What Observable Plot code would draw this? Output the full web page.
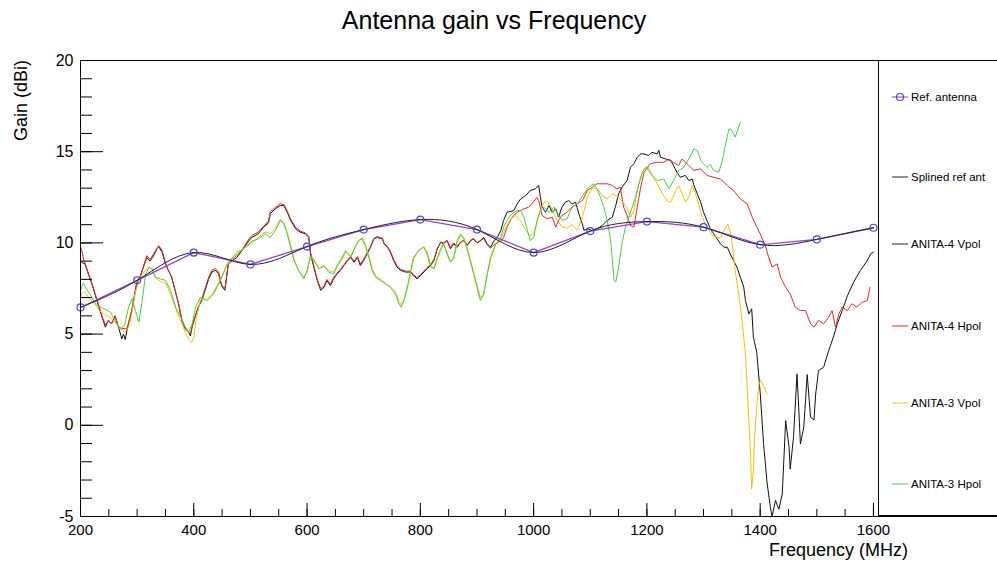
<!DOCTYPE html>
<html><head><meta charset="utf-8">
<script src="https://cdn.jsdelivr.net/npm/d3@7"></script>
<script src="https://cdn.jsdelivr.net/npm/@observablehq/plot@0.6"></script>
<style>
body{margin:0;background:#fff;}
#chart{width:997px;height:563px;}
</style>
</head><body><div id="chart"></div>
<script>
// ---- data (frequency MHz, gain dBi) ----
const refAntenna = [[200,6.46],[300,7.95],[400,9.47],[500,8.82],[600,9.8],[700,10.73],[800,11.28],[900,10.73],[1000,9.47],[1100,10.65],[1200,11.17],[1300,10.86],[1400,9.9],[1500,10.19],[1600,10.83]];

const anita4V = [[200,9.0],[204,8.9],[208,8.85],[214,8.3],[220,7.76],[229,6.84],[238,5.93],[244,5.38],[249,5.75],[255,5.56],[261,6.0],[267,5.38],[273,4.74],[276,5.0],[279,4.7],[282,5.2],[291,6.3],[299,7.76],[305,8.12],[311,8.67],[317,9.2],[323,9.0],[329,9.3],[335,9.68],[338,9.8],[344,9.5],[350,8.85],[355,8.5],[361,8.12],[367,7.4],[373,6.66],[379,5.75],[385,5.29],[391,5.1],[394,4.9],[397,5.38],[402,5.93],[408,6.48],[414,6.84],[420,7.4],[426,8.0],[432,8.4],[438,8.5],[444,8.3],[449,7.66],[455,7.4],[461,8.85],[467,9.0],[476,9.2],[485,9.58],[497,10.1],[502,10.3],[514,10.5],[523,10.86],[532,11.1],[535,11.6],[544,11.87],[553,12.05],[559,12.05],[565,11.68],[571,11.23],[580,10.77],[588,10.59],[597,10.5],[603,10.3],[606,9.4],[612,8.67],[618,7.94],[624,7.4],[630,7.57],[635,7.94],[641,7.66],[647,8.03],[653,8.3],[659,8.5],[665,8.76],[671,9.0],[677,9.2],[683,8.94],[689,9.2],[694,8.76],[700,9.03],[706,9.4],[712,9.76],[718,10.22],[724,10.3],[733,10.22],[736,9.95],[742,9.76],[747,9.5],[753,9.03],[759,8.67],[765,8.5],[774,8.4],[783,8.4],[788,8.2],[794,8.03],[800,8.2],[806,8.4],[812,8.58],[818,8.76],[824,9.03],[830,9.68],[836,10.04],[841,9.95],[847,10.13],[853,9.68],[859,9.95],[865,9.76],[871,10.04],[877,10.13],[883,9.86],[889,10.13],[894,10.22],[900,10.0],[906,10.13],[912,10.3],[918,9.95],[924,9.76],[930,10.13],[936,10.3],[942,10.68],[947,11.23],[953,11.68],[965,11.77],[971,12.14],[977,12.41],[986,12.6],[994,12.87],[1003,12.96],[1009,13.15],[1012,12.5],[1015,11.96],[1021,11.68],[1027,12.05],[1033,11.68],[1039,11.87],[1044,11.41],[1050,11.96],[1056,12.23],[1062,12.32],[1068,12.14],[1074,12.23],[1080,11.59],[1086,11.04],[1089,10.68],[1095,10.77],[1103,10.68],[1112,10.77],[1121,10.95],[1130,11.23],[1139,11.41],[1145,12.05],[1150,12.69],[1156,13.05],[1165,13.42],[1171,14.15],[1177,14.34],[1183,14.7],[1189,14.88],[1195,14.88],[1203,14.79],[1209,14.97],[1218,14.88],[1221,15.07],[1224,14.7],[1233,14.6],[1242,14.52],[1247,14.24],[1253,13.87],[1259,13.6],[1268,13.7],[1274,13.42],[1280,13.5],[1283,13.15],[1289,12.69],[1295,12.23],[1300,11.68],[1306,11.23],[1312,10.77],[1318,10.5],[1324,10.22],[1330,9.95],[1336,9.76],[1342,9.76],[1347,9.4],[1353,9.03],[1359,8.67],[1365,8.12],[1371,7.57],[1374,6.84],[1380,6.11],[1383,6.29],[1385,6.39],[1388,4.83],[1394,4.0],[1400,1.8],[1406,-1.0],[1412,-3.1],[1418,-4.5],[1421,-5.0],[1427,-4.12],[1433,-4.6],[1439,-3.76],[1445,0.26],[1448,-0.47],[1451,-1.2],[1453,-2.4],[1459,-0.6],[1465,2.82],[1468,0.99],[1471,-1.02],[1477,-0.1],[1483,2.78],[1489,0.44],[1495,0.3],[1498,1.72],[1503,3.0],[1512,3.18],[1521,4.1],[1530,4.9],[1536,5.56],[1545,6.3],[1554,7.1],[1565,7.85],[1577,8.49],[1589,9.03],[1595,9.4],[1600,9.5]];

const anita4H = [[200,9.8],[203,9.5],[206,9.0],[208,8.9],[214,8.3],[220,7.8],[229,6.9],[238,6.0],[244,5.5],[249,5.7],[255,5.6],[261,6.0],[267,5.4],[273,5.3],[279,5.3],[282,5.3],[291,6.4],[299,7.8],[305,8.1],[311,8.7],[317,9.3],[323,9.1],[329,9.4],[335,9.7],[338,9.85],[344,9.6],[350,8.9],[355,8.5],[361,8.1],[367,7.4],[373,6.7],[379,5.8],[385,5.3],[391,5.1],[394,5.0],[397,5.4],[402,5.9],[408,6.5],[414,6.9],[420,7.5],[426,8.1],[432,8.5],[438,8.6],[444,8.4],[449,7.7],[455,7.5],[461,8.9],[467,9.1],[476,9.3],[485,9.6],[497,10.2],[502,10.4],[514,10.6],[523,10.9],[532,11.2],[535,11.7],[544,11.95],[553,12.15],[559,12.1],[565,11.75],[571,11.3],[580,10.85],[588,10.65],[597,10.55],[603,10.35],[606,9.5],[612,8.75],[618,8.0],[624,7.5],[630,7.65],[635,8.0],[641,7.75],[647,8.1],[653,8.35],[659,8.55],[665,8.8],[671,9.05],[677,9.25],[683,9.0],[689,9.25],[694,8.85],[700,9.1],[706,9.45],[712,9.8],[718,10.25],[724,10.35],[733,10.25],[736,10.0],[742,9.8],[747,9.55],[753,9.1],[759,8.75],[765,8.55],[774,8.45],[783,8.45],[788,8.25],[794,8.1],[800,8.25],[806,8.45],[812,8.65],[818,8.8],[824,9.1],[830,9.7],[836,10.05],[841,10.0],[847,10.15],[853,9.75],[859,10.0],[865,9.8],[871,10.05],[877,10.15],[883,9.9],[889,10.15],[894,10.25],[900,10.0],[906,10.1],[912,10.25],[918,9.9],[924,9.7],[930,9.9],[936,10.0],[942,10.1],[947,10.3],[953,10.86],[962,11.41],[971,11.68],[983,11.87],[991,11.96],[997,12.14],[1006,12.5],[1009,12.32],[1015,11.5],[1024,11.32],[1033,11.41],[1039,10.86],[1044,11.23],[1050,11.5],[1059,11.68],[1068,11.96],[1077,12.14],[1086,12.32],[1095,12.87],[1103,13.05],[1112,13.24],[1121,13.24],[1130,13.24],[1139,13.15],[1147,12.96],[1153,13.05],[1159,11.96],[1165,11.5],[1171,10.95],[1177,10.86],[1183,11.96],[1189,13.05],[1195,13.87],[1206,14.34],[1218,14.42],[1230,14.42],[1239,14.6],[1247,14.4],[1256,14.24],[1262,14.6],[1271,14.34],[1283,13.97],[1295,14.06],[1306,13.7],[1318,13.6],[1330,13.5],[1342,13.15],[1353,12.87],[1365,12.41],[1377,12.14],[1386,11.41],[1394,10.86],[1400,10.5],[1409,9.86],[1415,9.22],[1421,8.67],[1430,8.85],[1436,8.12],[1445,7.57],[1453,7.2],[1462,6.48],[1471,6.29],[1480,6.29],[1489,5.56],[1495,5.38],[1503,5.75],[1512,5.56],[1521,5.93],[1527,6.29],[1533,5.38],[1539,6.11],[1545,6.48],[1554,6.29],[1562,6.66],[1571,6.48],[1580,6.75],[1589,6.84],[1594,7.57]];

const anita3V = [[200,7.1],[205,7.3],[209,7.3],[214,7.0],[218,6.9],[226,6.6],[233,6.3],[241,6.1],[253,5.9],[262,5.6],[271,5.3],[278,5.1],[285,5.4],[291,6.2],[297,7.3],[303,7.9],[309,8.3],[315,8.5],[321,8.7],[327,8.5],[332,8.1],[341,7.9],[350,7.8],[359,7.2],[368,6.4],[377,5.7],[385,5.1],[391,4.7],[396,4.55],[400,4.8],[404,5.8],[412,6.9],[424,6.9],[435,7.3],[447,8.0],[459,8.8],[468,9.1],[477,9.4],[488,9.7],[503,10.0],[514,10.3],[526,10.6],[535,10.5],[544,10.8],[553,11.3],[559,11.1],[565,10.6],[571,9.9],[577,9.1],[585,8.5],[594,8.1],[600,8.4],[606,9.2],[612,9.1],[621,8.6],[630,8.7],[638,8.5],[647,8.4],[653,8.7],[662,9.1],[668,9.5],[677,9.3],[686,9.8],[691,10.1],[697,10.3],[703,9.9],[709,9.3],[715,8.6],[721,8.2],[730,8.0],[738,7.8],[747,7.6],[756,7.3],[762,6.8],[766,6.6],[771,6.9],[777,7.5],[783,8.4],[788,9.1],[797,9.6],[806,9.8],[812,9.5],[818,8.8],[824,8.6],[830,9.1],[836,9.6],[841,9.9],[847,9.5],[853,9.0],[859,9.1],[865,10.0],[871,10.4],[877,10.3],[883,9.7],[889,9.0],[894,8.4],[900,7.7],[906,7.0],[912,7.2],[918,8.2],[924,9.1],[933,9.9],[942,10.2],[950,10.8],[959,11.3],[968,11.5],[977,11.2],[986,10.7],[994,10.4],[1000,10.5],[1006,11.1],[1012,11.8],[1018,12.2],[1024,12.3],[1030,12.0],[1036,11.6],[1042,11.2],[1050,10.9],[1059,10.8],[1068,11.0],[1077,10.7],[1086,11.4],[1095,12.5],[1103,13.0],[1112,13.0],[1121,12.6],[1130,12.4],[1139,12.7],[1150,12.5],[1159,12.2],[1165,11.9],[1171,11.4],[1177,11.8],[1183,12.9],[1189,13.6],[1195,14.06],[1201,14.2],[1206,13.9],[1218,13.24],[1227,12.7],[1236,12.3],[1242,12.23],[1250,12.8],[1256,13.15],[1262,12.7],[1268,12.23],[1274,12.5],[1280,13.15],[1286,12.69],[1292,12.05],[1298,11.41],[1304,10.95],[1310,10.68],[1316,10.4],[1324,10.3],[1330,10.25],[1336,10.7],[1343,11.04],[1347,10.6],[1350,10.1],[1356,8.5],[1362,7.2],[1368,5.75],[1374,3.9],[1377,2.1],[1380,0.26],[1383,-1.56],[1385,-3.5],[1388,-2.5],[1390,-0.7],[1394,1.1],[1398,2.27],[1401,2.46],[1407,2.09],[1412,1.72]];

const anita3H = [[200,7.4],[205,7.8],[209,7.57],[214,7.3],[218,7.12],[226,6.7],[229,6.57],[241,6.39],[253,6.2],[262,5.66],[271,5.29],[278,5.5],[285,6.48],[291,6.94],[297,6.29],[303,5.66],[309,6.84],[315,8.3],[321,8.67],[327,8.58],[332,8.12],[341,8.03],[350,7.94],[359,7.4],[368,6.48],[377,5.93],[385,5.38],[391,5.1],[397,5.56],[403,6.48],[412,7.02],[424,6.84],[435,7.2],[447,7.94],[459,8.85],[468,9.2],[477,9.5],[488,9.68],[503,10.1],[514,10.22],[526,10.5],[535,10.3],[544,10.68],[553,11.23],[559,11.04],[565,10.5],[571,9.76],[577,9.03],[585,8.49],[594,8.03],[600,8.49],[606,9.3],[612,9.03],[621,8.58],[630,8.76],[638,8.4],[647,8.3],[653,8.76],[662,9.2],[668,9.58],[677,9.2],[686,9.86],[691,10.13],[697,10.22],[703,9.86],[709,9.2],[715,8.49],[721,8.12],[730,7.94],[738,7.76],[747,7.57],[756,7.2],[762,6.66],[766,6.48],[771,6.84],[777,7.57],[783,8.49],[788,9.2],[797,9.58],[806,9.76],[812,9.4],[818,8.67],[824,8.58],[830,9.2],[836,9.68],[841,9.95],[847,9.4],[853,8.94],[859,9.2],[865,10.13],[871,10.5],[877,10.22],[883,9.58],[889,8.94],[894,8.3],[900,7.57],[906,6.84],[912,7.2],[918,8.3],[924,9.2],[933,9.95],[942,10.3],[947,10.86],[953,11.23],[959,11.5],[965,11.68],[971,11.77],[977,11.77],[983,11.41],[989,10.68],[994,10.13],[1000,10.3],[1006,11.23],[1012,11.77],[1018,11.96],[1027,11.68],[1036,11.96],[1042,11.6],[1050,11.23],[1059,11.32],[1068,11.96],[1077,12.14],[1089,12.69],[1097,13.05],[1106,13.24],[1112,12.96],[1118,12.5],[1124,11.96],[1130,11.23],[1136,10.13],[1139,9.03],[1142,7.94],[1145,7.85],[1150,8.67],[1156,9.95],[1162,10.86],[1168,11.41],[1174,11.96],[1180,12.5],[1186,13.24],[1192,13.87],[1198,14.15],[1203,13.97],[1209,13.7],[1218,13.42],[1230,13.5],[1239,12.96],[1247,13.42],[1256,13.97],[1265,14.15],[1274,14.6],[1283,15.16],[1289,15.07],[1295,14.52],[1300,14.34],[1306,14.15],[1312,14.3],[1318,13.97],[1327,13.87],[1333,14.52],[1339,15.43],[1345,16.25],[1350,16.16],[1356,15.8],[1362,16.34],[1365,16.62]];

const xTickLabels = [200, 400, 600, 800, 1000, 1200, 1400, 1600];
const xMinorTicks = d3.range(200, 1801, 50);
const yTickLabels = [-5, 0, 5, 10, 15, 20];
const yMinorTicks = d3.range(-5, 20.5, 1);

const legendItems = [
  {label: "Ref. antenna", color: "#9a3fd6", marker: true},
  {label: "Splined ref ant", color: "#222"},
  {label: "ANITA-4 Vpol", color: "#222"},
  {label: "ANITA-4 Hpol", color: "#e8262a"},
  {label: "ANITA-3 Vpol", color: "#f2c200"},
  {label: "ANITA-3 Hpol", color: "#3fd33f"}
];

// ---- layout ----
const W = 997, H = 563, ML = 80, MT = 60, MB = 47, MR = 0;
const plotW = W - ML - MR, plotH = H - MT - MB;

const toXY = a => a.map(([f, g]) => ({f, g}));

const chart = Plot.plot({
  width: W, height: H,
  marginLeft: ML, marginRight: MR, marginTop: MT, marginBottom: MB,
  x: {domain: [200, 1819]},
  y: {domain: [-5, 20]},
  style: {fontFamily: "'Liberation Sans', Arial, sans-serif", fontSize: "15px", color: "#000", background: "#fff"},
  marks: [
    Plot.line(toXY(anita4V), {x: "f", y: "g", stroke: "#111", strokeWidth: 1, clip: true}),
    Plot.line(toXY(anita4H), {x: "f", y: "g", stroke: "#e8262a", strokeWidth: 1, clip: true}),
    Plot.line(toXY(anita3V), {x: "f", y: "g", stroke: "#f2c200", strokeWidth: 1, clip: true}),
    Plot.line(toXY(anita3H), {x: "f", y: "g", stroke: "#3fd33f", strokeWidth: 1, clip: true}),
    Plot.line(toXY(refAntenna), {x: "f", y: "g", stroke: "#9a3fd6", strokeWidth: 1.3}),
    Plot.line(toXY(refAntenna), {x: "f", y: "g", stroke: "#222", strokeWidth: 1, curve: "natural"}),
    Plot.dot(toXY(refAntenna), {x: "f", y: "g", r: 3.5, stroke: "#4646e6", strokeWidth: 1.2, fill: "none"}),
    // frame
    Plot.ruleX([200], {stroke: "#000"}),
    Plot.ruleY([-5, 20], {stroke: "#000"}),
    // ticks (inward)
    Plot.ruleY(yMinorTicks, {stroke: "#000", insetRight: plotW - 12}),
    Plot.ruleY(yTickLabels, {stroke: "#000", insetRight: plotW - 23}),
    Plot.ruleX(xMinorTicks, {stroke: "#000", insetTop: plotH - 7}),
    Plot.ruleX(xTickLabels, {stroke: "#000", insetTop: plotH - 13}),
    Plot.axisX({ticks: xTickLabels, tickSize: 0, tickPadding: 8, label: null, tickFormat: d => String(d)}),
    Plot.axisY({ticks: yTickLabels, tickSize: 0, tickPadding: 7, label: null, fontSize: 16, tickFormat: d => String(d)})
  ]
});

document.getElementById("chart").appendChild(chart);

const svg = d3.select(chart);
const font = "'Liberation Sans', Arial, sans-serif";
svg.append("text").attr("x", 494).attr("y", 29).attr("text-anchor", "middle")
  .attr("font-family", font).attr("font-size", 25).attr("fill", "#000").text("Antenna gain vs Frequency");
svg.append("text").attr("transform", "translate(27,60) rotate(-90)").attr("text-anchor", "end")
  .attr("font-family", font).attr("font-size", 18).attr("fill", "#000").text("Gain (dBi)");
svg.append("text").attr("x", 908).attr("y", 556).attr("text-anchor", "end")
  .attr("font-family", font).attr("font-size", 18).attr("fill", "#000").text("Frequency (MHz)");

// legend box
const lg = svg.append("g");
lg.append("rect").attr("x", 878.5).attr("y", 60.5).attr("width", 130).attr("height", 455)
  .attr("fill", "#fff").attr("stroke", "#000").attr("stroke-width", 1);
const legendY = [97, 177, 244, 326, 403, 484];
legendItems.forEach((it, i) => {
  const y = legendY[i];
  lg.append("line").attr("x1", 892).attr("x2", 908).attr("y1", y).attr("y2", y)
    .attr("stroke", it.color).attr("stroke-width", 1);
  if (it.marker) lg.append("circle").attr("cx", 900).attr("cy", y).attr("r", 3.5)
    .attr("fill", "none").attr("stroke", "#4646e6").attr("stroke-width", 1.2);
  lg.append("text").attr("x", 911).attr("y", y + 4).attr("text-anchor", "start").attr("font-family", font)
    .attr("font-size", 11.5).attr("fill", "#000").text(it.label);
});
</script>
</body></html>
